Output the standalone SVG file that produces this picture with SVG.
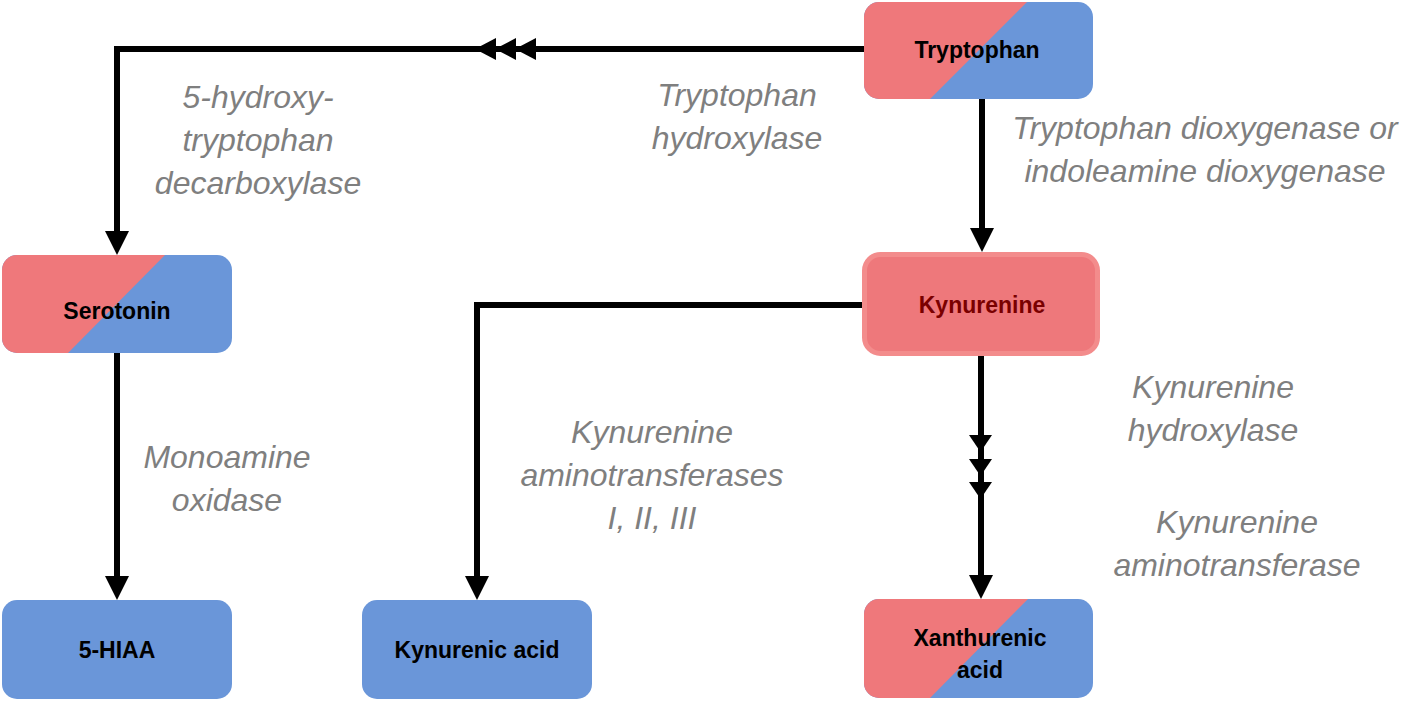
<svg xmlns="http://www.w3.org/2000/svg" width="1418" height="701" viewBox="0 0 1418 701">
<style>
.red{fill:#EF787B}
.blue{fill:#6A96D9}
.node{font-family:"Liberation Sans",Arial,sans-serif;font-weight:bold;font-size:23px;fill:#000;text-anchor:middle}
.lbl{font-family:"Liberation Sans",Arial,sans-serif;font-style:italic;font-size:32px;fill:#7F7F7F;text-anchor:middle}
.conn{fill:none;stroke:#000;stroke-width:6}
.head{fill:#000}
</style>
<defs>
<marker id="arr" viewBox="0 0 24 24" refX="14" refY="12" markerWidth="24" markerHeight="24" markerUnits="userSpaceOnUse" orient="auto">
<path d="M0,0 L24,12 L0,24 z" fill="#000"/>
</marker>
<clipPath id="cTry"><rect x="864" y="2" width="229" height="97" rx="15"/></clipPath>
<clipPath id="cSer"><rect x="2" y="255" width="230" height="98" rx="15"/></clipPath>
<clipPath id="cXan"><rect x="864" y="599" width="229" height="99" rx="15"/></clipPath>
</defs>

<g id="connectors">
<path class="conn" d="M864 49 H117 V245" marker-end="url(#arr)"/>
<polygon class="head" points="475,49 496,38 496,60"/>
<polygon class="head" points="495,49 516,38 516,60"/>
<polygon class="head" points="515,49 536,38 536,60"/>
<path class="conn" d="M982 99 V242" marker-end="url(#arr)"/>
<path class="conn" d="M862 305 H477 V590" marker-end="url(#arr)"/>
<path class="conn" d="M117 353 V590" marker-end="url(#arr)"/>
<path class="conn" d="M981 356 V589" marker-end="url(#arr)"/>
<polygon class="head" points="969,435 992,435 980.5,452"/>
<polygon class="head" points="969,459 992,459 980.5,476"/>
<polygon class="head" points="969,482 992,482 980.5,499"/>
</g>

<g id="tryptophan">
<g clip-path="url(#cTry)">
<rect class="blue" x="864" y="2" width="229" height="97"/>
<polygon class="red" points="864,2 1027,2 930,99 864,99"/>
</g>
<text class="node" x="977" y="58">Tryptophan</text>
</g>

<g id="kynurenine">
<rect x="864.5" y="254.5" width="233" height="99" rx="16" fill="#EE787B" stroke="#F38C8C" stroke-width="5"/>
<text class="node" x="982" y="313" style="fill:#7A0000">Kynurenine</text>
</g>

<g id="serotonin">
<g clip-path="url(#cSer)">
<rect class="blue" x="2" y="255" width="230" height="98"/>
<polygon class="red" points="2,255 165,255 68,353 2,353"/>
</g>
<text class="node" x="117" y="319">Serotonin</text>
</g>

<g id="hiaa">
<rect class="blue" x="2" y="600" width="230" height="99" rx="15"/>
<text class="node" x="117" y="658">5-HIAA</text>
</g>

<g id="kynurenic-acid">
<rect class="blue" x="362" y="600" width="230" height="99" rx="15"/>
<text class="node" x="477" y="658">Kynurenic acid</text>
</g>

<g id="xanthurenic-acid">
<g clip-path="url(#cXan)">
<rect class="blue" x="864" y="599" width="229" height="99"/>
<polygon class="red" points="864,599 1028,599 930,698 864,698"/>
</g>
<text class="node" x="980" y="646">Xanthurenic</text>
<text class="node" x="980" y="678">acid</text>
</g>

<g id="labels">
<text class="lbl" x="258" y="108">5-hydroxy-</text>
<text class="lbl" x="258" y="151">tryptophan</text>
<text class="lbl" x="258" y="194">decarboxylase</text>
<text class="lbl" x="737" y="106">Tryptophan</text>
<text class="lbl" x="737" y="149">hydroxylase</text>
<text class="lbl" x="1205" y="139">Tryptophan dioxygenase or</text>
<text class="lbl" x="1205" y="182">indoleamine dioxygenase</text>
<text class="lbl" x="227" y="468">Monoamine</text>
<text class="lbl" x="227" y="511">oxidase</text>
<text class="lbl" x="652" y="443">Kynurenine</text>
<text class="lbl" x="652" y="486">aminotransferases</text>
<text class="lbl" x="652" y="529">I, II, III</text>
<text class="lbl" x="1213" y="398">Kynurenine</text>
<text class="lbl" x="1213" y="441">hydroxylase</text>
<text class="lbl" x="1237" y="533">Kynurenine</text>
<text class="lbl" x="1237" y="576">aminotransferase</text>
</g>
</svg>
